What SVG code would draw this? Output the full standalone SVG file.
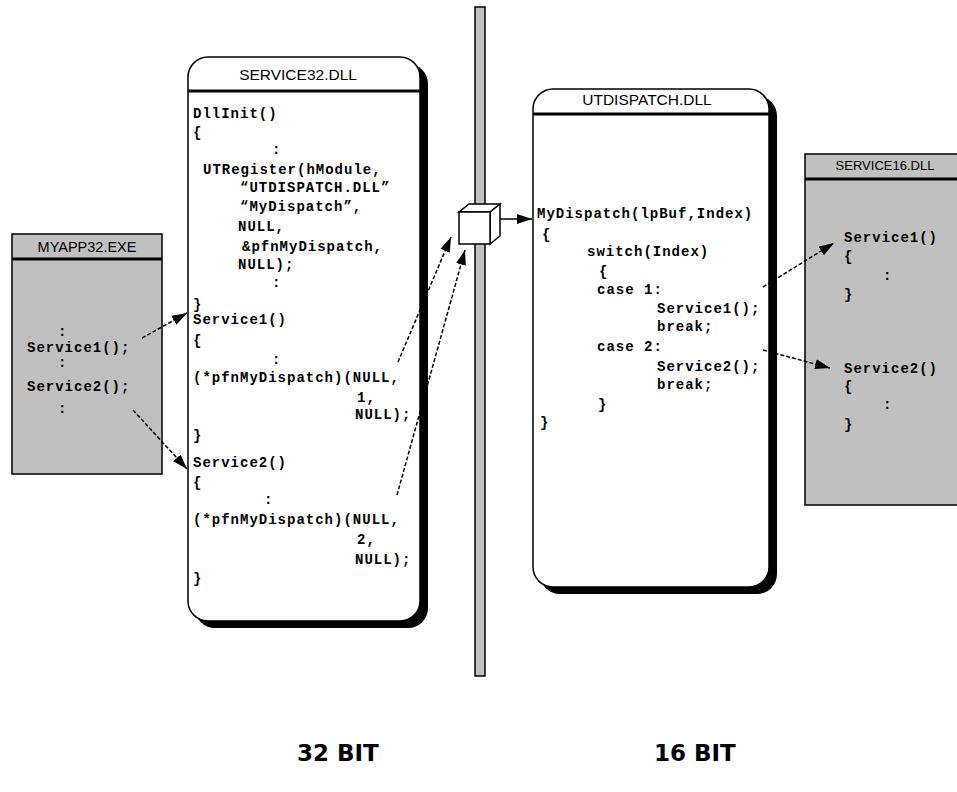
<svg xmlns="http://www.w3.org/2000/svg" width="957" height="792" viewBox="0 0 957 792">
<style>
.code{font-family:"Liberation Mono","Courier New",monospace;font-weight:bold;font-size:14px;letter-spacing:1px;fill:#000}
.hdr{font-family:"Liberation Sans",Arial,sans-serif;fill:#000;text-anchor:middle}
.bit{font-family:"DejaVu Sans",Verdana,sans-serif;font-weight:bold;font-size:23px;fill:#000}
.box{fill:#fff;stroke:#000;stroke-width:1.5}
.shadow{fill:#000}
.gray{fill:#c0c0c0;stroke:#000;stroke-width:1.5}
.div{stroke:#000;stroke-width:3}
.dash{stroke:#000;stroke-width:1.5;stroke-dasharray:4 2;fill:none;marker-end:url(#ah)}
.solid{stroke:#000;stroke-width:1.5;fill:none;marker-end:url(#ah)}
</style>
<defs>
<marker id="ah" markerUnits="userSpaceOnUse" markerWidth="16" markerHeight="12" refX="15" refY="5" orient="auto">
<path d="M0,0 L15,5 L0,10 z" fill="#000"/>
</marker>
</defs>
<rect width="957" height="792" fill="#fff"/>

<g id="divider">
<rect x="475" y="7" width="10" height="669" class="gray"/>
</g>

<g id="myapp32">
<rect x="12" y="234" width="150" height="240" class="gray"/>
<line x1="12" y1="259" x2="162" y2="259" class="div"/>
<text x="87" y="252" class="hdr" font-size="14.5">MYAPP32.EXE</text>
<text x="58" y="336" class="code">:</text>
<text x="27" y="352" class="code">Service1();</text>
<text x="58" y="367" class="code">:</text>
<text x="27" y="391" class="code">Service2();</text>
<text x="58" y="413" class="code">:</text>
</g>

<g id="service32">
<rect x="195" y="64" width="233" height="564" rx="20" class="shadow"/>
<rect x="188" y="57" width="232" height="564" rx="20" class="box"/>
<line x1="188" y1="91" x2="420" y2="91" class="div"/>
<text x="298" y="80" class="hdr" font-size="15.5">SERVICE32.DLL</text>
<text x="193" y="118" class="code">DllInit()</text>
<text x="193" y="137" class="code">{</text>
<text x="272" y="154" class="code">:</text>
<text x="203" y="174" class="code">UTRegister(hModule,</text>
<text x="240" y="192" class="code">“UTDISPATCH.DLL”</text>
<text x="240" y="211" class="code">“MyDispatch”,</text>
<text x="238" y="231" class="code">NULL,</text>
<text x="242" y="251" class="code">&amp;pfnMyDispatch,</text>
<text x="238" y="269" class="code">NULL);</text>
<text x="272" y="287" class="code">:</text>
<text x="193" y="309" class="code">}</text>
<text x="193" y="324" class="code">Service1()</text>
<text x="193" y="345" class="code">{</text>
<text x="272" y="364" class="code">:</text>
<text x="193" y="382" class="code">(*pfnMyDispatch)(NULL,</text>
<text x="357" y="402" class="code">1,</text>
<text x="355" y="419" class="code">NULL);</text>
<text x="193" y="440" class="code">}</text>
<text x="193" y="467" class="code">Service2()</text>
<text x="193" y="487" class="code">{</text>
<text x="264" y="504" class="code">:</text>
<text x="193" y="524" class="code">(*pfnMyDispatch)(NULL,</text>
<text x="357" y="544" class="code">2,</text>
<text x="355" y="564" class="code">NULL);</text>
<text x="193" y="583" class="code">}</text>
</g>

<g id="thunk">
<polygon points="459,212 469,204 500,204 490,212" class="box"/>
<polygon points="490,212 500,204 500,236 490,244" class="box"/>
<rect x="459" y="212" width="31" height="32" class="box"/>
</g>

<g id="utdispatch">
<rect x="540" y="96" width="237" height="498" rx="20" class="shadow"/>
<rect x="533" y="89" width="236" height="498" rx="20" class="box"/>
<line x1="533" y1="114" x2="769" y2="114" class="div"/>
<text x="647" y="105" class="hdr" font-size="15.5">UTDISPATCH.DLL</text>
<text x="537" y="218" class="code">MyDispatch(lpBuf,Index)</text>
<text x="542" y="239" class="code">{</text>
<text x="587" y="256" class="code">switch(Index)</text>
<text x="599" y="276" class="code">{</text>
<text x="597" y="294" class="code">case 1:</text>
<text x="657" y="313" class="code">Service1();</text>
<text x="657" y="331" class="code">break;</text>
<text x="597" y="351" class="code">case 2:</text>
<text x="657" y="371" class="code">Service2();</text>
<text x="657" y="389" class="code">break;</text>
<text x="598" y="409" class="code">}</text>
<text x="540" y="427" class="code">}</text>
</g>

<g id="service16">
<rect x="805" y="154" width="160" height="351" class="gray"/>
<line x1="805" y1="179" x2="957" y2="179" class="div"/>
<text x="885" y="170" class="hdr" font-size="13">SERVICE16.DLL</text>
<text x="844" y="242" class="code">Service1()</text>
<text x="844" y="261" class="code">{</text>
<text x="883" y="280" class="code">:</text>
<text x="844" y="299" class="code">}</text>
<text x="844" y="373" class="code">Service2()</text>
<text x="844" y="391" class="code">{</text>
<text x="883" y="409" class="code">:</text>
<text x="844" y="429" class="code">}</text>
</g>

<g id="connectors">
<line x1="142" y1="338" x2="187" y2="313" class="dash"/>
<line x1="133" y1="410" x2="187" y2="469" class="dash"/>
<line x1="398" y1="362" x2="451" y2="237" class="dash"/>
<line x1="397" y1="495" x2="465" y2="250" class="dash"/>
<line x1="500" y1="219" x2="532" y2="219" class="solid"/>
<line x1="763" y1="287" x2="834" y2="243" class="dash"/>
<line x1="763" y1="350" x2="830" y2="368" class="dash"/>
</g>

<g id="labels">
<text x="297" y="761" class="bit">32 BIT</text>
<text x="654" y="761" class="bit">16 BIT</text>
</g>
</svg>
